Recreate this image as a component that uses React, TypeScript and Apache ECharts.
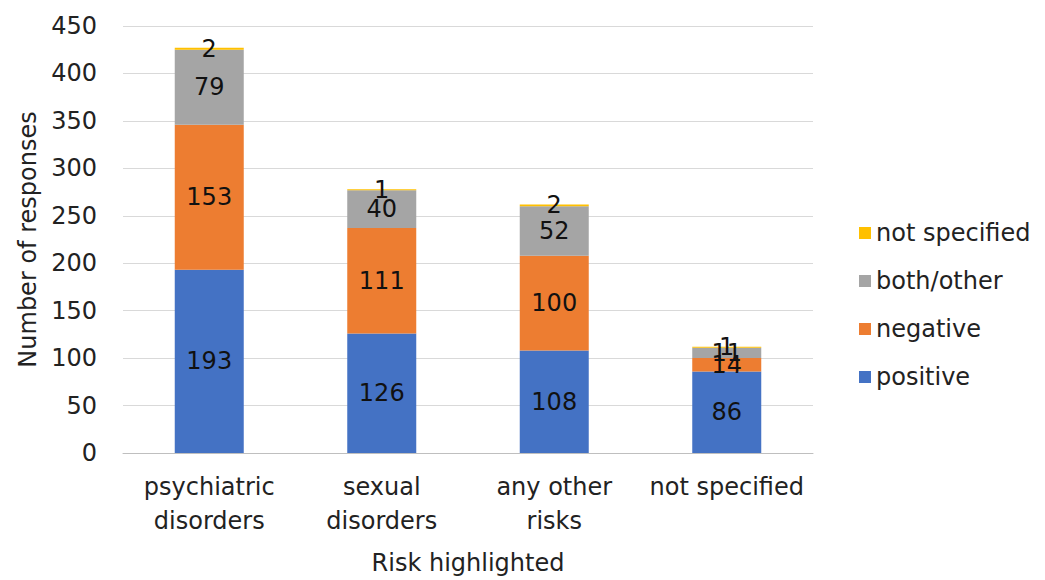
import React, { useEffect, useRef } from "react";
import * as echarts from "echarts";

const categories = ["psychiatric\ndisorders", "sexual\ndisorders", "any other\nrisks", "not specified"];
const positive = [193, 126, 108, 86];
const negative = [153, 111, 100, 14];
const bothOther = [79, 40, 52, 11];
const notSpecified = [2, 1, 2, 1];
const seriesNames = ["positive", "negative", "both/other", "not specified"];
const colors = ["#4472C4", "#ED7D31", "#A5A5A5", "#FFC000"];
const yTicks = { min: 0, max: 450, interval: 50 };

export default function App() {
  const ref = useRef<HTMLDivElement>(null);
  useEffect(() => {
    if (!ref.current) return;
    const chart = echarts.init(ref.current, null, { renderer: "svg" });
    const font = "'DejaVu Sans', 'Liberation Sans', Arial, sans-serif";
    const fs = 24;
    const datasets = [positive, negative, bothOther, notSpecified];
    chart.setOption({
      animation: false,
      textStyle: { fontFamily: font },
      grid: { left: 123, width: 690, top: 26, height: 427 },
      legend: {
        orient: "vertical",
        left: 854,
        top: 216,
        itemWidth: 12,
        itemHeight: 12,
        itemGap: 24,
        icon: "rect",
        data: [...seriesNames].reverse(),
        textStyle: { fontSize: fs, color: "#222", fontFamily: font },
      },
      xAxis: {
        type: "category",
        data: categories,
        name: "Risk highlighted",
        nameLocation: "middle",
        nameGap: 98,
        nameTextStyle: { fontSize: fs, color: "#222", fontFamily: font },
        axisLine: { lineStyle: { color: "#BFBFBF" } },
        axisTick: { show: false },
        axisLabel: { fontSize: fs, color: "#222", lineHeight: 34, margin: 17, fontFamily: font, interval: 0 },
      },
      yAxis: {
        type: "value",
        min: yTicks.min,
        max: yTicks.max,
        interval: yTicks.interval,
        name: "Number of responses",
        nameLocation: "middle",
        nameGap: 79,
        nameTextStyle: { fontSize: fs, color: "#222", fontFamily: font },
        axisLine: { show: false },
        axisTick: { show: false },
        axisLabel: { fontSize: fs, color: "#222", margin: 26, fontFamily: font },
        splitLine: { lineStyle: { color: "#D9D9D9" } },
      },
      series: seriesNames.map((name, i) => ({
        name,
        type: "bar",
        stack: "total",
        barWidth: "40%",
        data: datasets[i],
        itemStyle: { color: colors[i] },
        label: {
          show: true,
          position: "inside",
          fontSize: fs,
          color: "#111",
          fontFamily: font,
        },
      })),
    });
    return () => chart.dispose();
  }, []);
  return <div ref={ref} style={{ width: 1045, height: 580, position: "absolute", left: 0, top: 0 }} />;
}
